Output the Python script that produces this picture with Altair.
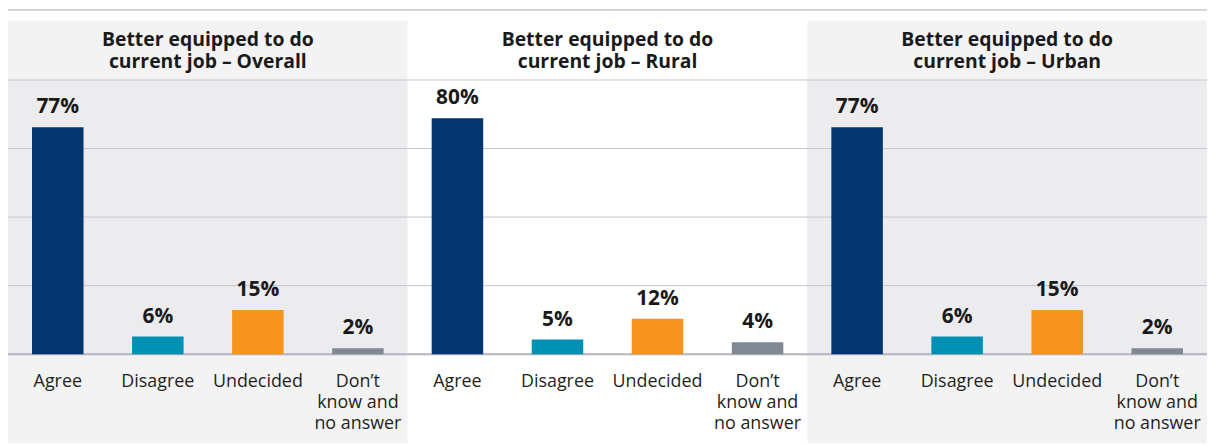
import altair as alt
import pandas as pd

# ---------------- data ----------------
panels = ["Overall", "Rural", "Urban"]
panel_titles = [
    "Better equipped to do\ncurrent job – Overall",
    "Better equipped to do\ncurrent job – Rural",
    "Better equipped to do\ncurrent job – Urban",
]
responses = ["Agree", "Disagree", "Undecided", "Don’t know and no answer"]
response_labels = ["Agree", "Disagree", "Undecided", "Don’t\nknow and\nno answer"]
overall_values = [77, 6, 15, 2]
rural_values = [80, 5, 12, 4]
urban_values = [77, 6, 15, 2]
grid_values = [0, 23.25, 46.5, 69.75, 93]

# ---------------- styles ----------------
bar_colors = ["#04356f", "#0090b3", "#f7941d", "#7f8893"]
plot_bg = ["#ececee", "#ffffff", "#ececee"]
frame_bg = ["#f3f3f4", "#ffffff", "#f3f3f4"]
FONT = "Open Sans"
W, H = 1207, 276
BOTTOM = 90

rows = []
for p, vals in zip(panels, [overall_values, rural_values, urban_values]):
    for r, lab, v in zip(responses, response_labels, vals):
        rows.append({"panel": p, "response": r, "xlabel": lab, "value": v, "label": f"{v}%"})
bars_df = pd.DataFrame(rows)
panel_df = pd.DataFrame({"panel": panels, "title": panel_titles})
grid_df = pd.DataFrame({"g": grid_values})

x = alt.X("panel:N",
          scale=alt.Scale(domain=panels, paddingInner=0, paddingOuter=0),
          axis=None)
xo = alt.XOffset("response:N",
                 scale=alt.Scale(domain=responses, paddingInner=0.485, paddingOuter=0.24))
yscale = alt.Scale(domain=[0, 93], nice=False, zero=True)

frame_rect = alt.Chart(panel_df).mark_rect().encode(
    x=x, y=alt.value(-60), y2=alt.value(H + BOTTOM),
    color=alt.Color("panel:N", scale=alt.Scale(domain=panels, range=frame_bg), legend=None),
)
plot_rect = alt.Chart(panel_df).mark_rect().encode(
    x=x, y=alt.value(0), y2=alt.value(H),
    color=alt.Color("panel:N", scale=alt.Scale(domain=panels, range=plot_bg), legend=None),
)
grid = alt.Chart(grid_df).transform_filter("datum.g > 0").mark_rule(
    color="#c5c6ce", strokeWidth=1
).encode(y=alt.Y("g:Q", scale=yscale, axis=None))
baseline = alt.Chart(grid_df).transform_filter("datum.g == 0").mark_rule(
    color="#b3b4bc", strokeWidth=2
).encode(y=alt.Y("g:Q", scale=yscale, axis=None))
top_line = alt.Chart(panel_df).transform_aggregate(n="count()").mark_rule(
    color="#a3a7b1", strokeWidth=1
).encode(y=alt.value(-70.5))

bars = alt.Chart(bars_df).mark_bar().encode(
    x=x, xOffset=xo,
    y=alt.Y("value:Q", scale=yscale, axis=None),
    color=alt.Color("response:N", scale=alt.Scale(domain=responses, range=bar_colors), legend=None),
)
value_text = alt.Chart(bars_df).mark_text(
    font=FONT, fontSize=21, fontWeight="bold", dy=-14, baseline="alphabetic", color="#1a1a1a"
).encode(x=x, xOffset=xo, y=alt.Y("value:Q", scale=yscale, axis=None), text="label:N")
x_text = alt.Chart(bars_df).mark_text(
    font=FONT, fontSize=18, baseline="alphabetic", lineBreak="\n", lineHeight=21, color="#231f20"
).encode(x=x, xOffset=xo, y=alt.value(H + 33), text="xlabel:N")
title_text = alt.Chart(panel_df).mark_text(
    font=FONT, fontSize=19.5, fontWeight="bold", baseline="alphabetic", lineBreak="\n",
    lineHeight=22, color="#1a1a1a"
).encode(x=x, y=alt.value(-34), text="title:N")

chart = alt.layer(
    frame_rect, plot_rect, top_line, grid, baseline, bars, value_text, x_text, title_text
).resolve_scale(color="independent").properties(
    width=W, height=H,
    autosize=alt.AutoSizeParams(type="none"),
    padding={"left": 0, "right": 0, "top": 71, "bottom": BOTTOM},
    background="white",
).configure_view(stroke=None)

chart.save("out.html", embed_options={"renderer": "svg", "actions": False})
